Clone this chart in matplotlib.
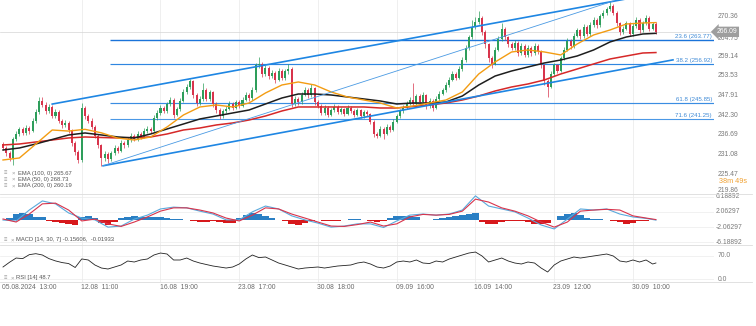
import numpy as np
import matplotlib
matplotlib.use("Agg")
import matplotlib.pyplot as plt
from matplotlib.transforms import blended_transform_factory as blend

plt.rcParams['font.family'] = ['Liberation Sans', 'DejaVu Sans']

# ---------------- data ----------------
first_open = 234.0
closes = [233.0, 231.5, 230.0, 235.5, 237.0, 238.3, 237.2, 238.6, 237.8, 240.8,
          243.2, 246.4, 245.3, 243.5, 244.8, 242.0, 243.2, 240.6, 239.5, 240.2,
          238.0, 234.5, 231.8, 229.5, 244.5, 242.0, 240.8, 239.0, 236.5, 233.8,
          230.0, 231.2, 229.8, 231.5, 233.0, 232.2, 234.5, 233.8, 235.2, 236.4,
          235.5, 237.0, 236.2, 237.8, 238.5, 237.9, 241.5, 243.0, 244.5, 243.6,
          245.5, 246.8, 242.5, 244.0, 246.5, 249.0, 250.5, 252.0, 248.0, 245.8,
          247.0, 249.5, 247.0, 248.8, 245.5, 243.8, 242.0, 243.5, 244.2, 245.6,
          244.5, 246.0, 245.0, 246.8, 248.0, 247.2, 249.5, 256.5, 257.0, 254.0,
          255.8, 253.5, 254.5, 252.5, 255.0, 253.0, 254.8, 255.5, 245.5, 247.0,
          246.0, 248.2, 249.5, 248.0, 250.0, 246.0, 245.0, 243.0, 244.5, 242.5,
          243.8, 244.8, 243.2, 244.0, 242.8, 244.5, 243.5, 242.5, 243.8, 242.0,
          243.2, 242.6, 240.5, 237.0, 236.5, 238.5, 237.0, 239.0, 238.2, 240.5,
          242.0, 243.5, 244.5, 245.8, 246.8, 245.5, 247.8, 246.2, 248.0, 245.0,
          246.5, 244.5, 247.0, 248.5, 249.5, 251.0, 252.5, 254.0, 253.0, 255.5,
          258.0, 261.5, 264.5, 267.5, 269.0, 270.0, 266.0, 262.5, 258.5, 257.0,
          261.0, 264.0, 267.0, 264.5, 262.5, 261.5, 263.0, 260.0, 262.0, 259.5,
          261.5, 260.0, 262.0, 260.5, 256.5, 252.0, 250.5, 254.0, 256.5, 255.0,
          258.5, 261.0, 263.5, 262.0, 265.0, 266.5, 264.8, 267.5, 265.5, 268.0,
          269.5, 268.0, 270.5, 271.5, 272.5, 273.5, 271.5, 268.5, 266.0, 267.0,
          268.5, 265.5, 267.8, 269.5, 266.5, 268.5, 270.0, 267.0, 268.3, 266.09]
highs = [234.6, 233.5, 232.0, 236.2, 237.8, 239.0, 238.9, 239.4, 239.2, 241.5,
         244.0, 247.6, 247.4, 246.0, 245.6, 245.2, 244.0, 243.8, 241.2, 241.0,
         240.8, 238.5, 235.0, 232.3, 245.8, 245.0, 242.8, 241.4, 239.5, 237.0,
         234.2, 232.0, 231.8, 232.2, 233.8, 233.6, 235.2, 235.0, 236.0, 237.2,
         237.0, 237.8, 237.5, 238.6, 239.2, 239.0, 242.3, 243.8, 245.3, 245.0,
         246.2, 247.6, 247.3, 244.8, 247.2, 249.8, 251.2, 252.7, 252.4, 248.6,
         247.8, 251.5, 250.0, 249.6, 249.3, 246.0, 244.3, 244.2, 245.0, 246.3,
         246.2, 246.8, 246.6, 247.5, 248.8, 248.6, 250.3, 257.3, 258.9, 257.5,
         256.6, 256.3, 255.3, 255.0, 255.8, 255.5, 255.6, 257.0, 256.0, 247.8,
         247.6, 249.0, 250.3, 250.0, 251.2, 250.5, 246.6, 245.5, 245.2, 245.0,
         244.5, 245.5, 245.3, 244.8, 244.5, 245.2, 245.0, 244.0, 244.5, 244.2,
         243.9, 243.8, 243.0, 241.0, 237.6, 239.2, 239.0, 239.8, 239.6, 241.2,
         242.8, 244.2, 245.2, 246.5, 247.5, 251.5, 248.5, 248.3, 248.8, 248.5,
         247.2, 247.0, 247.8, 249.2, 250.2, 251.8, 253.3, 254.8, 254.6, 256.3,
         258.8, 262.3, 265.3, 269.5, 270.2, 271.9, 270.6, 266.6, 263.0, 259.2,
         261.8, 264.8, 268.5, 267.6, 265.0, 263.2, 263.8, 263.5, 262.8, 262.5,
         262.3, 262.0, 262.8, 262.6, 261.0, 257.0, 252.6, 254.8, 257.3, 257.0,
         259.3, 261.8, 264.3, 264.0, 265.8, 267.3, 267.0, 268.3, 268.0, 268.8,
         270.3, 270.0, 271.3, 272.3, 273.3, 274.8, 274.0, 272.0, 269.0, 267.8,
         269.3, 269.0, 268.6, 270.3, 270.0, 269.3, 270.8, 270.5, 269.0, 268.9]
lows = [232.4, 230.8, 229.2, 228.2, 235.0, 236.5, 236.6, 236.8, 237.0, 237.4,
        240.2, 242.8, 244.6, 242.8, 243.0, 241.4, 241.5, 240.0, 238.8, 238.9,
        237.2, 233.5, 231.0, 228.7, 229.0, 241.3, 240.0, 238.3, 235.8, 233.0,
        227.9, 229.2, 228.6, 229.2, 231.0, 231.5, 231.8, 233.0, 233.2, 234.8,
        234.9, 235.0, 235.6, 235.8, 237.2, 237.2, 237.5, 241.0, 242.5, 242.9,
        243.0, 245.0, 241.5, 242.0, 243.5, 246.0, 248.4, 249.8, 247.2, 245.0,
        245.2, 246.5, 246.3, 246.5, 244.8, 243.0, 241.2, 241.5, 243.0, 243.8,
        243.8, 244.0, 244.3, 244.6, 246.3, 246.5, 246.8, 249.0, 255.8, 253.2,
        253.5, 252.6, 252.9, 251.6, 252.0, 252.3, 252.5, 254.2, 244.8, 245.0,
        245.3, 245.6, 247.7, 247.3, 247.5, 245.3, 244.3, 242.3, 242.5, 241.8,
        242.0, 243.3, 242.6, 242.7, 242.2, 242.3, 242.9, 241.9, 242.0, 241.4,
        241.6, 242.0, 239.8, 236.2, 235.8, 236.0, 235.6, 236.6, 237.5, 237.8,
        240.0, 241.5, 243.0, 244.0, 245.2, 245.0, 245.0, 245.6, 245.8, 244.2,
        244.5, 243.6, 244.0, 246.5, 248.0, 249.0, 250.5, 252.0, 252.3, 252.6,
        255.0, 257.5, 261.0, 264.0, 266.8, 268.4, 265.2, 261.6, 257.6, 255.8,
        256.5, 260.5, 263.5, 263.8, 261.8, 260.8, 261.0, 259.3, 259.5, 258.8,
        259.0, 259.3, 259.5, 259.8, 255.7, 251.0, 247.5, 250.0, 253.5, 254.3,
        254.6, 258.0, 260.5, 261.3, 261.5, 264.5, 264.0, 264.3, 264.8, 265.0,
        267.5, 267.3, 267.5, 270.0, 271.0, 272.0, 270.8, 267.8, 265.2, 265.5,
        266.5, 264.8, 265.0, 267.3, 265.8, 266.0, 268.0, 266.3, 266.5, 265.6]

ema_idx = list(range(0, 200, 5)) + [199]
ema50 = [229.56, 230.13, 234.1, 238.11, 237.8, 238.3, 237.3, 235.8, 235.26, 236.12,
         238.97, 242.39, 244.67, 245.24, 244.67, 245.81, 248.66, 250.94, 251.8, 250.94,
         248.95, 247.52, 246.66, 245.81, 244.38, 244.95, 245.81, 246.66, 248.95, 254.08,
         257.5, 260.35, 260.92, 260.35, 259.5, 262.63, 265.2, 266.62, 268.33, 268.62, 268.73]
ema100 = [232.41, 232.98, 234.12, 235.4, 236.69, 237.26, 236.69, 236.12, 235.84, 236.97,
          238.4, 239.82, 241.25, 242.1, 242.96, 243.81, 245.52, 247.23, 248.37, 248.37,
          248.09, 247.52, 246.95, 246.38, 245.52, 245.81, 245.81, 246.09, 247.8, 250.94,
          253.5, 254.93, 256.07, 257.21, 258.07, 259.21, 260.92, 263.2, 264.63, 265.48, 265.67]
ema200 = [233.84, 234.12, 234.69, 235.26, 235.84, 236.12, 235.97, 235.84, 235.97, 236.12,
          236.97, 238.11, 238.68, 239.54, 240.11, 240.96, 242.1, 243.53, 244.67, 244.67,
          244.67, 244.67, 244.67, 244.38, 244.38, 244.81, 245.24, 245.81, 246.66, 247.8,
          249.23, 250.37, 251.23, 252.37, 254.08, 255.5, 256.93, 258.35, 259.21, 260.06, 260.19]

macd_idx = list(range(0, 200, 4)) + [199]
macd_line = [-0.14, -0.41, 2.6, 5.1, 4.3, 1.8, 0.4, -0.1, -2.1, -1.8,
             0.1, 1.2, 2.9, 3.4, 3.2, 2.3, 1.5, -0.1, -0.1, 2.1,
             3.7, 2.9, 1.0, -0.1, -1.0, -2.1, -1.8, -1.2, -1.2, -2.2,
             -0.4, 1.2, 1.5, 1.2, 1.5, 2.6, 6.5, 3.7, 2.9, 2.1,
             0.4, -1.5, -2.6, 0.1, 2.9, 2.6, 2.9, 1.5, 0.7, 0.3, -0.16]
macd_signal = [0.14, -0.69, 1.5, 4.3, 4.5, 2.6, -0.4, 0.1, -1.2, -1.9,
               -0.7, 0.7, 2.3, 3.2, 3.2, 2.6, 1.8, 0.4, -0.4, 1.2,
               3.2, 2.9, 1.5, 0.4, -0.7, -1.8, -1.9, -1.4, -0.7, -1.8,
               -1.2, 0.7, 1.4, 1.2, 1.4, 2.3, 5.6, 4.8, 3.2, 2.3,
               1.0, -0.7, -2.1, -0.7, 2.3, 2.6, 2.8, 2.6, 1.0, 0.4, -0.02]
hist_idx = list(range(0, 200, 2))
macd_hist = [0.0, 0.3, 1.4, 1.8, 1.5, 0.8, 0.6, -0.3, -0.8, -1.0,
             -1.2, -1.6, 0.6, 1.0, 0.4, -1.0, -1.6, -0.8, 0.4, 0.7,
             0.9, 0.8, 0.7, 0.8, 0.6, 0.3, 0.1, 0.1, -0.1, -0.5,
             -0.6, -0.6, -0.5, -0.8, -1.0, -0.9, 0.3, 1.2, 1.8, 1.5,
             0.9, 0.4, -0.2, -0.3, -1.2, -1.6, -1.0, -0.3, -0.2, -0.4,
             -0.5, -0.3, -0.1, 0.1, 0.2, -0.2, -0.5, -0.7, -0.5, 0.3,
             0.9, 1.0, 0.9, 0.6, -0.2, -0.2, 0.1, 0.4, 0.6, 0.9,
             1.3, 1.6, 1.8, -0.6, -1.2, -1.1, -0.6, -0.3, -0.4, -0.5,
             -0.7, -1.1, -1.2, -1.0, -0.2, 1.0, 1.6, 1.7, 1.3, 0.4,
             0.1, 0.1, 0.0, -0.3, -0.8, -1.1, -0.9, -0.3, -0.5, -0.2]

rsi_idx = list(range(0, 200, 2)) + [199]
rsi_vals = [36.5, 51, 63.8, 62, 74, 77, 73, 62, 55, 50,
            47, 35, 61, 57.8, 42.6, 33.4, 30.4, 36.5, 42.6, 54.7,
            51.7, 57.8, 60.8, 73, 79, 76, 57.8, 57.8, 63.8, 54.7,
            48.6, 44, 39.5, 36.5, 33.4, 36.5, 45.6, 60.8, 73, 65,
            66.9, 57.8, 48.6, 42.6, 36.5, 30.4, 33.4, 35, 36.5, 33.4,
            36.5, 39.5, 41, 42.6, 48.6, 51.7, 45.6, 36.5, 33.4, 39.5,
            51.7, 54.7, 51.7, 57.8, 48.6, 47, 54.7, 51.7, 60.8, 66.9,
            73, 79, 82, 70, 51.7, 57.8, 63.8, 54.7, 48.6, 45.6,
            51.7, 48.6, 33.4, 21.3, 42.6, 54.7, 60.8, 66.9, 63.8, 66.9,
            70, 73, 76, 70, 54.7, 51.7, 57.8, 51.7, 57.8, 45.6, 48.7]

price_ticks = [270.36, 264.75, 259.14, 253.53, 247.91, 242.30, 236.69, 231.08, 225.47, 219.86]
macd_ticks = [6.18892, 2.06297, -2.06297, -6.18892]
rsi_ticks = [70.0, 0.0]
date_pos = [0, 24, 48, 72, 96, 120, 144, 168, 192]
date_labels = ["05.08.2024  13:00", "12.08  11:00", "16.08  19:00", "23.08  17:00",
               "30.08  18:00", "09.09  16:00", "16.09  14:00", "23.09  12:00", "30.09  10:00"]
fib_levels = [263.77, 256.92, 245.85, 241.25]
fib_names = ["23.6", "38.2", "61.8", "71.6"]
fib_start = 32.6
upper_channel = ([15.0, 200.0], [245.5, 277.2])
lower_channel = ([30.5, 204.2], [227.9, 258.1])
fib_trend = ([30.5, 185.9], [227.92, 274.84])
last_price = 266.09
ema_legend = ["EMA (100, 0) 265.67", "EMA (50, 0) 268.73", "EMA (200, 0) 260.19"]
macd_legend = "MACD [14, 30, 7] -0.15606,  -0.01933"
rsi_legend = "RSI [14] 48.7"
countdown = "38m 49s"

# ---------------- layout ----------------
W, H = 756, 326
fig = plt.figure(figsize=(W / 100, H / 100), dpi=100)
fig.patch.set_facecolor('white')
PR = 714  # right edge of plotting area in px


def axrect(top, bottom):
    return [0, 1 - bottom / H, PR / W, (bottom - top) / H]


ax = fig.add_axes(axrect(0, 194))
axm = fig.add_axes(axrect(194, 245))
axr = fig.add_axes(axrect(245, 282))
S, X0 = 3.281, 3.0
for a in (ax, axm, axr):
    a.set_xlim(-X0 / S, (PR - X0) / S)
    a.axis('off')
ax.set_ylim(219.86, 275.17)
axm.set_ylim(-7.01, 7.01)
axr.set_ylim(-9.1, 103.4)

GREEN, RED = '#2e9e5b', '#d8344c'
GRID = '#ececec'
LBL = '#7a7a7a'
FS = 4.9

# vertical grid
for a in (ax, axm, axr):
    for p in date_pos[1:]:
        a.axvline(p, color=GRID, lw=0.6, zorder=0)
for v in macd_ticks:
    axm.axhline(v, color=GRID, lw=0.5, zorder=0)
for v in rsi_ticks:
    axr.axhline(v, color=GRID, lw=0.5, zorder=0)

# separators
for py in (194, 245, 282):
    fig.add_artist(plt.Line2D([0, 752 / W], [1 - py / H] * 2, color='#dcdcdc', lw=0.6))

# current price line
ax.axhline(last_price, color='#d5d5d5', lw=0.5, zorder=0)

# fib levels
fib_cols = ['#1a73d9', '#2f86e0', '#3a8de2', '#4b98e6']
fib_lw = [1.0, 0.85, 0.85, 0.8]
xr = (PR - X0) / S
for lev, nm, ccol, lw in zip(fib_levels, fib_names, fib_cols, fib_lw):
    ax.plot([fib_start, xr], [lev, lev], color=ccol, lw=lw, zorder=1, solid_capstyle='butt')
    ax.text(712 / PR, lev + 0.35, f"{nm} ({lev:.2f})", transform=blend(ax.transAxes, ax.transData),
            ha='right', va='bottom', fontsize=4.4, color='#3f8ad6')

# candles
n = len(closes)
idx = np.arange(n)
o = np.array([first_open] + closes[:-1])
c = np.array(closes)
colors = np.where(c >= o, GREEN, RED)
ax.vlines(idx, lows, highs, colors=colors, lw=0.5, zorder=2)
ax.bar(idx, np.maximum(np.abs(c - o), 0.15), bottom=np.minimum(o, c), width=0.62,
       color=colors, lw=0, zorder=2)

# EMAs
ax.plot(ema_idx, ema200, color='#d62828', lw=1.1, zorder=3)
ax.plot(ema_idx, ema100, color='#1e1e1e', lw=1.1, zorder=3)
ax.plot(ema_idx, ema50, color='#f39c12', lw=1.0, zorder=3)

# channel + trend
ax.plot(*upper_channel, color='#1e86e3', lw=1.2, zorder=4)
ax.plot(*lower_channel, color='#1e86e3', lw=1.2, zorder=4)
ax.plot(*fib_trend, color='#4a9ae3', lw=0.6, zorder=4)

# MACD
hcol = np.where(np.array(macd_hist) >= 0, '#2a7fc4', '#d7191c')
axm.bar(hist_idx, macd_hist, width=2.0, color=hcol, lw=0, zorder=1)
axm.plot(macd_idx, macd_line, color='#5aa9dc', lw=0.8, zorder=2)
axm.plot(macd_idx, macd_signal, color='#d8344c', lw=0.8, zorder=2)

# RSI
axr.plot(rsi_idx, rsi_vals, color='#222222', lw=0.6)

# right axis labels
trm = blend(ax.transAxes, ax.transData)
xl = 718 / PR
for p in price_ticks:
    if p == 264.75:
        continue
    va = 'bottom' if p == price_ticks[-1] else 'center'
    ax.text(xl, p, f"{p:.2f}", transform=trm, ha='left', va=va, fontsize=FS, color=LBL, clip_on=False)
ax.text(xl, 264.75 - 0.6, "264.75", transform=trm, ha='left', va='center', fontsize=FS, color=LBL, clip_on=False)
ax.text(xl - 0.002, last_price, f"{last_price:.2f}", transform=trm, ha='left', va='center', fontsize=FS,
        color='white', clip_on=False,
        bbox=dict(boxstyle='larrow,pad=0.25', fc='#9e9e9e', ec='none'))
ax.text(719 / PR, 223.3, countdown, transform=trm, ha='left', va='center', fontsize=5.2,
        color='#f0a030', clip_on=False)

trmm = blend(axm.transAxes, axm.transData)
for v in macd_ticks:
    axm.text(716 / PR, v, f"{v:.5f}", transform=trmm, ha='left', va='center', fontsize=FS,
             color=LBL, clip_on=False)
trr = blend(axr.transAxes, axr.transData)
for v in rsi_ticks:
    axr.text(718 / PR, v, f"{v:.1f}", transform=trr, ha='left', va='center', fontsize=FS,
             color=LBL, clip_on=False)

# date labels
trd = blend(axr.transData, axr.transAxes)
for p, lab in zip(date_pos, date_labels):
    axr.text(p - 0.3, -0.14, lab, transform=trd, ha='left', va='center', fontsize=FS,
             color='#6a6a6a', clip_on=False)


def ftext(px, py, s, **kw):
    fig.text(px / W, 1 - py / H, s, **kw)


# legends
for k, (lab, py) in enumerate(zip(ema_legend, [173, 179.5, 186])):
    ftext(4, py, "\u2261", fontsize=4.2, color='#999999', va='center')
    ftext(12, py, "\u00d7", fontsize=4.2, color='#999999', va='center')
    ftext(18, py, lab, fontsize=4.2, color='#555555', va='center')
ftext(4, 240, "\u2261", fontsize=4.2, color='#999999', va='center')
ftext(11, 240, "\u00d7", fontsize=4.2, color='#999999', va='center')
ftext(16, 240, macd_legend, fontsize=4.2, color='#555555', va='center')
ftext(4, 278, "\u2261", fontsize=4.2, color='#999999', va='center')
ftext(11, 278, "\u00d7", fontsize=4.2, color='#999999', va='center')
ftext(16, 278, rsi_legend, fontsize=4.2, color='#555555', va='center')

fig.savefig("out.png", dpi=100, facecolor='white')
